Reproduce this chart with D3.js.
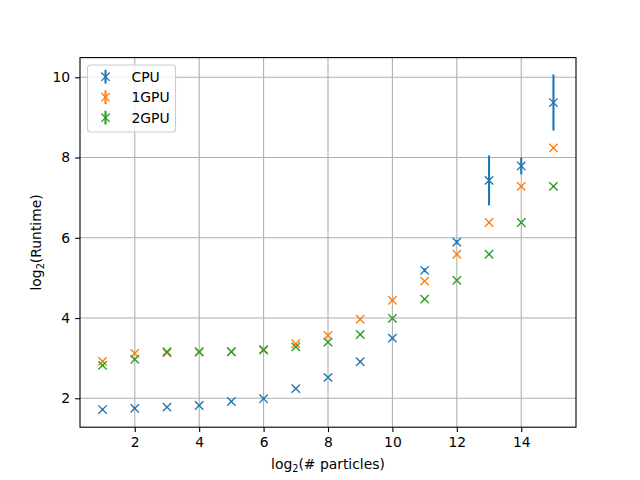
<!DOCTYPE html>
<html>
<head>
<meta charset="utf-8">
<script src="https://cdn.jsdelivr.net/npm/d3@7"></script>
<style>
    body { margin: 0; background: white; }
    text { font-family: "DejaVu Sans", sans-serif; }
</style>
</head>
<body>
<svg id="chart"></svg>
<script>
// log2(# particles)
const particles = [1, 2, 3, 4, 5, 6, 7, 8, 9, 10, 11, 12, 13, 14, 15];

// log2(runtime) per series
const cpu  = [1.72, 1.75, 1.78, 1.82, 1.92, 1.99, 2.24, 2.52, 2.91, 3.50, 5.19, 5.89, 7.43, 7.79, 9.37];
const gpu1 = [2.92, 3.12, 3.13, 3.15, 3.16, 3.22, 3.36, 3.57, 3.97, 4.44, 4.92, 5.59, 6.38, 7.28, 8.24];
const gpu2 = [2.82, 2.97, 3.16, 3.16, 3.16, 3.20, 3.28, 3.40, 3.59, 3.99, 4.47, 4.94, 5.59, 6.38, 7.28];

// error bars (half length)
const cpuErr  = [0.02, 0.02, 0.02, 0.02, 0.02, 0.02, 0.02, 0.02, 0.03, 0.03, 0.05, 0.05, 0.62, 0.21, 0.70];
const gpu1Err = [0.02, 0.02, 0.02, 0.02, 0.02, 0.02, 0.02, 0.02, 0.02, 0.02, 0.02, 0.02, 0.02, 0.02, 0.02];
const gpu2Err = [0.02, 0.02, 0.02, 0.02, 0.02, 0.02, 0.02, 0.02, 0.02, 0.02, 0.02, 0.02, 0.02, 0.02, 0.02];

const seriesNames = ['CPU', '1GPU', '2GPU'];
const xTicks = [2, 4, 6, 8, 10, 12, 14];
const yTicks = [2, 4, 6, 8, 10];

const colors = ['#1f77b4', '#ff7f0e', '#2ca02c'];

const width = 640, height = 480;
const margin = {top: 57.6, right: 64, bottom: 52.8, left: 80};

const svg = d3.select('#chart')
    .attr('width', width)
    .attr('height', height);

const innerW = width - margin.left - margin.right;
const innerH = height - margin.top - margin.bottom;

const chart = svg.append('g')
    .attr('transform', `translate(${margin.left},${margin.top})`);

const x = d3.scaleLinear().domain([0.3, 15.7]).range([0, innerW]);
const y = d3.scaleLinear().domain([1.28, 10.49]).range([innerH, 0]);

// grid
chart.append('g')
    .selectAll('line')
    .data(xTicks)
    .join('line')
    .attr('x1', d => x(d)).attr('x2', d => x(d))
    .attr('y1', 0).attr('y2', innerH)
    .attr('stroke', '#b0b0b0')
    .attr('stroke-width', 1.1);

chart.append('g')
    .selectAll('line')
    .data(yTicks)
    .join('line')
    .attr('x1', 0).attr('x2', innerW)
    .attr('y1', d => y(d)).attr('y2', d => y(d))
    .attr('stroke', '#b0b0b0')
    .attr('stroke-width', 1.1);

// axes
const xAxis = chart.append('g')
    .attr('transform', `translate(0,${innerH})`)
    .call(d3.axisBottom(x).tickValues(xTicks).tickSize(4.9).tickPadding(4.9).tickSizeOuter(0));
const yAxis = chart.append('g')
    .call(d3.axisLeft(y).tickValues(yTicks).tickSize(4.9).tickPadding(4.9).tickSizeOuter(0));

[xAxis, yAxis].forEach(a => {
    a.select('.domain').remove();
    a.selectAll('.tick line').attr('stroke', 'black').attr('stroke-width', 1.1);
    a.selectAll('.tick text')
        .attr('fill', 'black')
        .style('font-size', '13.9px')
        .style('font-family', '"DejaVu Sans", sans-serif');
});

// data
const series = [
    {name: seriesNames[0], values: cpu, errs: cpuErr},
    {name: seriesNames[1], values: gpu1, errs: gpu1Err},
    {name: seriesNames[2], values: gpu2, errs: gpu2Err}
];

const markerR = 4.17;

function drawX(g, cx, cy, color) {
    g.append('path')
        .attr('d', `M${cx - markerR},${cy - markerR}L${cx + markerR},${cy + markerR}M${cx - markerR},${cy + markerR}L${cx + markerR},${cy - markerR}`)
        .attr('stroke', color)
        .attr('stroke-width', 1.4)
        .attr('fill', 'none');
}

series.forEach((s, i) => {
    const g = chart.append('g');
    g.selectAll('line')
        .data(particles)
        .join('line')
        .attr('x1', d => x(d)).attr('x2', d => x(d))
        .attr('y1', (d, j) => y(s.values[j] - s.errs[j]))
        .attr('y2', (d, j) => y(s.values[j] + s.errs[j]))
        .attr('stroke', colors[i])
        .attr('stroke-width', 2.1);
    particles.forEach((p, j) => drawX(g, x(p), y(s.values[j]), colors[i]));
});

// frame
chart.append('rect')
    .attr('width', innerW).attr('height', innerH)
    .attr('fill', 'none')
    .attr('stroke', 'black')
    .attr('stroke-width', 1.1);

// axis labels
const xl = svg.append('text')
    .attr('x', margin.left + innerW / 2)
    .attr('y', 469)
    .attr('text-anchor', 'middle')
    .style('font-size', '13.9px');
xl.append('tspan').text('log');
xl.append('tspan').attr('baseline-shift', '-25%').style('font-size', '9.7px').text('2');
xl.append('tspan').text('(# particles)');

const yl = svg.append('text')
    .attr('transform', `translate(41,${margin.top + innerH / 2}) rotate(-90)`)
    .attr('text-anchor', 'middle')
    .style('font-size', '13.9px');
yl.append('tspan').text('log');
yl.append('tspan').attr('baseline-shift', '-25%').style('font-size', '9.7px').text('2');
yl.append('tspan').text('(Runtime)');

// legend
const legend = svg.append('g').attr('transform', 'translate(87.5,65)');
legend.append('rect')
    .attr('width', 88).attr('height', 67)
    .attr('rx', 3)
    .attr('fill', 'white')
    .attr('fill-opacity', 0.8)
    .attr('stroke', '#cccccc')
    .attr('stroke-width', 1.1);

seriesNames.forEach((name, i) => {
    const cy = 11.7 + i * 20.5;
    const hx = 18;
    legend.append('line')
        .attr('x1', hx).attr('x2', hx)
        .attr('y1', cy - 6.9).attr('y2', cy + 6.9)
        .attr('stroke', colors[i])
        .attr('stroke-width', 2.1);
    drawX(legend, hx, cy, colors[i]);
    legend.append('text')
        .attr('x', 44)
        .attr('y', cy + 5)
        .style('font-size', '13.9px')
        .text(name);
});
</script>
</body>
</html>
